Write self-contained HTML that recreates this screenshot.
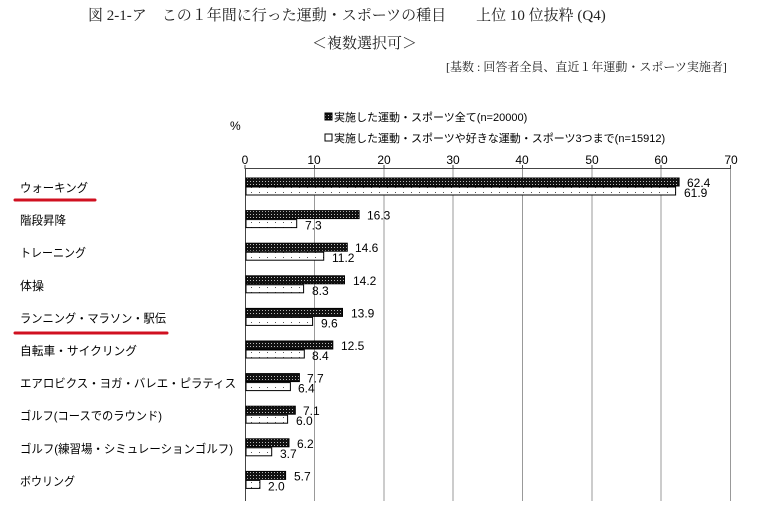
<!DOCTYPE html>
<html><head><meta charset="utf-8"><style>
body{margin:0;background:#fff;}
.s{font-family:"Liberation Sans","Noto Sans CJK JP",sans-serif;}
.r{font-family:"Liberation Serif","Noto Serif CJK SC",serif;}
</style></head><body>
<svg width="780" height="501" xmlns="http://www.w3.org/2000/svg">
<defs>
<pattern id="dk" width="3" height="3" patternUnits="userSpaceOnUse"><rect width="3" height="3" fill="#111"/><rect x="1" y="1" width="1" height="1" fill="#bbb"/></pattern>
<pattern id="lt" width="8" height="5" patternUnits="userSpaceOnUse"><rect width="8" height="5" fill="#fff"/><rect x="3" y="2" width="1" height="1" fill="#555"/></pattern>
</defs>
<g class="r" fill="#222">
<text x="88" y="20" font-size="15">図 2-1-ア　この１年間に行った運動・スポーツの種目　　上位 10 位抜粋 (Q4)</text>
<text x="312" y="48" font-size="15">＜複数選択可＞</text>
<text x="446" y="71" font-size="12">[基数 : 回答者全員、直近１年運動・スポーツ実施者]</text>
</g>
<g class="s" fill="#000">
<text x="230" y="130" font-size="12">%</text>
<rect x="325" y="113" width="7" height="7" fill="url(#dk)" stroke="#000"/>
<text x="334" y="121" font-size="11">実施した運動・スポーツ全て(n=20000)</text>
<rect x="325" y="134" width="7" height="7" fill="#fff" stroke="#000"/>
<text x="334" y="142" font-size="11">実施した運動・スポーツや好きな運動・スポーツ3つまで(n=15912)</text>
<g font-size="12" text-anchor="middle">
<text x="245" y="164">0</text><text x="314" y="164">10</text><text x="384" y="164">20</text><text x="453" y="164">30</text><text x="522" y="164">40</text><text x="592" y="164">50</text><text x="661" y="164">60</text><text x="731" y="164">70</text>
</g>
</g>
<g stroke="#999" stroke-width="1">
<line x1="314.5" y1="169" x2="314.5" y2="501"/><line x1="384" y1="169" x2="384" y2="501"/><line x1="453" y1="169" x2="453" y2="501"/><line x1="522.5" y1="169" x2="522.5" y2="501"/><line x1="592" y1="169" x2="592" y2="501"/><line x1="661" y1="169" x2="661" y2="501"/><line x1="730.5" y1="169" x2="730.5" y2="501"/>
</g>
<line x1="245" y1="168.5" x2="731" y2="168.5" stroke="#444"/>
<line x1="245.5" y1="168" x2="245.5" y2="501" stroke="#444"/>
<g stroke="#444"><line x1="245" y1="165" x2="245" y2="169"/><line x1="314.5" y1="165" x2="314.5" y2="169"/><line x1="384" y1="165" x2="384" y2="169"/><line x1="453" y1="165" x2="453" y2="169"/><line x1="522.5" y1="165" x2="522.5" y2="169"/><line x1="592" y1="165" x2="592" y2="169"/><line x1="661" y1="165" x2="661" y2="169"/><line x1="730.5" y1="165" x2="730.5" y2="169"/></g>

<g class="s" font-size="12" fill="#000">
<text x="20" y="192" textLength="68" lengthAdjust="spacingAndGlyphs">ウォーキング</text>
<text x="20" y="224.6" textLength="46" lengthAdjust="spacingAndGlyphs">階段昇降</text>
<text x="20" y="257.2" textLength="66" lengthAdjust="spacingAndGlyphs">トレーニング</text>
<text x="20" y="289.8">体操</text>
<text x="20" y="322.4" textLength="146" lengthAdjust="spacingAndGlyphs">ランニング・マラソン・駅伝</text>
<text x="20" y="355" textLength="117" lengthAdjust="spacingAndGlyphs">自転車・サイクリング</text>
<text x="20" y="387.6" textLength="216" lengthAdjust="spacingAndGlyphs">エアロビクス・ヨガ・バレエ・ピラティス</text>
<text x="20" y="420.2" textLength="142" lengthAdjust="spacingAndGlyphs">ゴルフ(コースでのラウンド)</text>
<text x="20" y="452.8" textLength="213" lengthAdjust="spacingAndGlyphs">ゴルフ(練習場・シミュレーションゴルフ)</text>
<text x="20" y="485.4" textLength="55" lengthAdjust="spacingAndGlyphs">ボウリング</text>
</g>

<g stroke="#000">
<rect x="246" y="178" width="433.1" height="8" fill="url(#dk)"/><rect x="246" y="187" width="429.6" height="8" fill="url(#lt)"/>
<rect x="246" y="210.6" width="113.1" height="8" fill="url(#dk)"/><rect x="246" y="219.6" width="50.7" height="8" fill="url(#lt)"/>
<rect x="246" y="243.2" width="101.3" height="8" fill="url(#dk)"/><rect x="246" y="252.2" width="77.7" height="8" fill="url(#lt)"/>
<rect x="246" y="275.8" width="98.5" height="8" fill="url(#dk)"/><rect x="246" y="284.8" width="57.6" height="8" fill="url(#lt)"/>
<rect x="246" y="308.4" width="96.5" height="8" fill="url(#dk)"/><rect x="246" y="317.4" width="66.6" height="8" fill="url(#lt)"/>
<rect x="246" y="341" width="86.8" height="8" fill="url(#dk)"/><rect x="246" y="350" width="58.3" height="8" fill="url(#lt)"/>
<rect x="246" y="373.6" width="53.4" height="8" fill="url(#dk)"/><rect x="246" y="382.6" width="44.4" height="8" fill="url(#lt)"/>
<rect x="246" y="406.2" width="49.3" height="8" fill="url(#dk)"/><rect x="246" y="415.2" width="41.6" height="8" fill="url(#lt)"/>
<rect x="246" y="438.8" width="43" height="8" fill="url(#dk)"/><rect x="246" y="447.8" width="25.7" height="8" fill="url(#lt)"/>
<rect x="246" y="471.4" width="39.6" height="8" fill="url(#dk)"/><rect x="246" y="480.4" width="13.9" height="8" fill="url(#lt)"/>
</g>

<g class="s" font-size="12" fill="#000">
<text x="687" y="187">62.4</text><text x="684" y="197">61.9</text>
<text x="367" y="219.6">16.3</text><text x="305" y="229.6">7.3</text>
<text x="355" y="252.2">14.6</text><text x="332" y="262.2">11.2</text>
<text x="353" y="284.8">14.2</text><text x="312" y="294.8">8.3</text>
<text x="351" y="317.4">13.9</text><text x="321" y="327.4">9.6</text>
<text x="341" y="350">12.5</text><text x="312" y="360">8.4</text>
<text x="307" y="382.6">7.7</text><text x="298" y="392.6">6.4</text>
<text x="303" y="415.2">7.1</text><text x="296" y="425.2">6.0</text>
<text x="297" y="447.8">6.2</text><text x="280" y="457.8">3.7</text>
<text x="294" y="480.4">5.7</text><text x="268" y="490.4">2.0</text>
</g>

<line x1="15" y1="200" x2="95" y2="200" stroke="#d01020" stroke-width="3" stroke-linecap="round"/>
<line x1="15" y1="333" x2="167" y2="333" stroke="#d01020" stroke-width="3" stroke-linecap="round"/>
</svg>
</body></html>
